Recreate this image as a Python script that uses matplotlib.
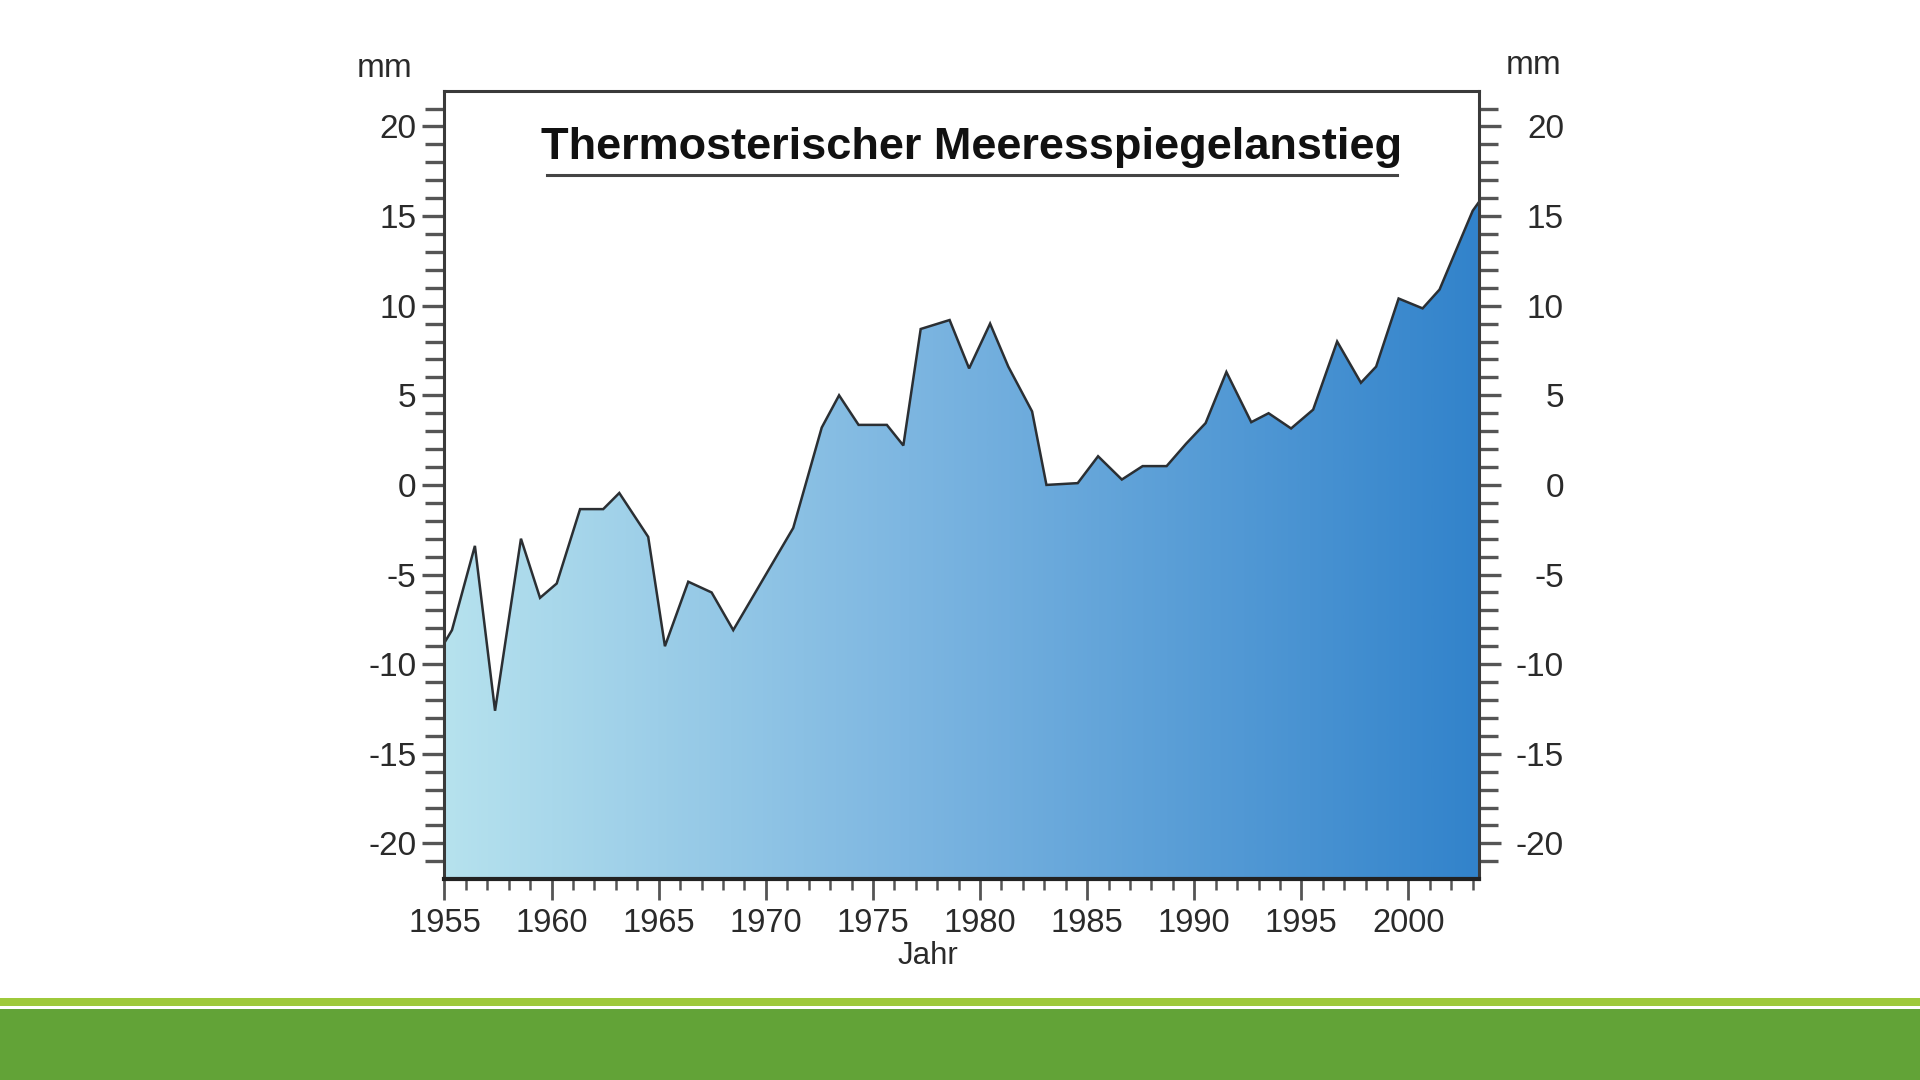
import numpy as np
import matplotlib
matplotlib.use("Agg")
import matplotlib.pyplot as plt
import matplotlib.transforms as mtransforms
from matplotlib.colors import LinearSegmentedColormap
from matplotlib.patches import Polygon, Rectangle
from matplotlib.lines import Line2D

plt.rcParams['font.family'] = ['Liberation Sans', 'DejaVu Sans']

# ---- data ----
years = [1955.0, 1955.35, 1956.42, 1957.36, 1958.57, 1959.46, 1960.24, 1961.33,
         1962.41, 1963.16, 1964.51, 1965.29, 1966.38, 1967.47, 1968.48, 1971.28,
         1972.61, 1973.42, 1974.33, 1975.65, 1976.42, 1977.23, 1978.58, 1979.49,
         1980.47, 1981.32, 1982.43, 1983.10, 1984.56, 1985.51, 1986.62, 1987.59,
         1988.71, 1989.62, 1990.53, 1991.50, 1992.66, 1993.47, 1994.52, 1995.55,
         1996.67, 1997.78, 1998.49, 1999.54, 2000.66, 2001.45, 2002.40, 2003.00,
         2003.30]
values = [-8.8, -8.1, -3.4, -12.6, -3.0, -6.3, -5.5, -1.35,
          -1.35, -0.45, -2.9, -9.0, -5.4, -6.0, -8.1, -2.4,
          3.2, 5.0, 3.35, 3.35, 2.2, 8.7, 9.2, 6.5,
          9.0, 6.6, 4.1, 0.0, 0.1, 1.6, 0.3, 1.05,
          1.05, 2.3, 3.45, 6.3, 3.5, 4.0, 3.15, 4.2,
          8.0, 5.7, 6.6, 10.4, 9.85, 10.9, 13.6, 15.3,
          15.8]
y_major = [-20, -15, -10, -5, 0, 5, 10, 15, 20]
x_major = [1955, 1960, 1965, 1970, 1975, 1980, 1985, 1990, 1995, 2000]
title = "Thermosterischer Meeresspiegelanstieg"
x_label = "Jahr"
unit = "mm"

XLIM = (1955.0, 2003.3)
YLIM = (-22.0, 22.0)

fig = plt.figure(figsize=(19.2, 10.8), dpi=100)
fig.patch.set_facecolor('white')

# green footer bands
fig.patches.append(Rectangle((0, 0.0685), 1, 0.0075, transform=fig.transFigure,
                             facecolor='#9ec93b', edgecolor='none', zorder=0))
fig.patches.append(Rectangle((0, 0.0), 1, 0.0657, transform=fig.transFigure,
                             facecolor='#62a337', edgecolor='none', zorder=0))

ax = fig.add_axes([0.2315, 0.1859, 0.5389, 0.7302])
ax.set_xlim(*XLIM)
ax.set_ylim(*YLIM)
ax.set_facecolor('white')

# gradient fill below the curve
cmap = LinearSegmentedColormap.from_list(
    'sea', [(0.0, '#b6e2ee'), (0.45, '#7db6e1'), (1.0, '#3283cb')])
grad = np.linspace(0, 1, 512).reshape(1, -1)
im = ax.imshow(grad, extent=[XLIM[0], XLIM[1], YLIM[0], YLIM[1]], aspect='auto',
               cmap=cmap, origin='lower', zorder=1, interpolation='bilinear')
verts = [(years[0], YLIM[0])] + list(zip(years, values)) + [(years[-1], YLIM[0])]
clip = Polygon(verts, closed=True, facecolor='none', edgecolor='none',
               transform=ax.transData)
ax.add_patch(clip)
im.set_clip_path(clip)

ax.plot(years, values, color='#2b2f33', lw=1.8, zorder=3, solid_joinstyle='miter')

# spines
for s in ax.spines.values():
    s.set_color('#3a3a3a')
    s.set_linewidth(2.2)
    s.set_zorder(4)
ax.spines['bottom'].set_color('#222222')
ax.spines['bottom'].set_linewidth(3)

# ticks
ax.set_xticks(x_major)
ax.set_xticks(np.arange(1955, 2004, 1), minor=True)
ax.set_yticks(y_major)
ax.set_yticks(np.arange(-21, 22, 1), minor=True)
ax.set_xticklabels([str(v) for v in x_major])
ax.set_yticklabels([str(v) for v in y_major])

ax.tick_params(axis='y', which='major', direction='out', length=16, width=2.4,
               color='#555555', labelsize=24, labelcolor='#2a2a2a', pad=4,
               left=True, right=True, labelleft=True, labelright=True)
ax.tick_params(axis='y', which='minor', direction='out', length=14, width=2.4,
               color='#555555', left=True, right=True)
ax.tick_params(axis='x', which='major', direction='out', length=15, width=2.0,
               color='#555555', labelsize=23.5, labelcolor='#2a2a2a', pad=6)
ax.tick_params(axis='x', which='minor', direction='out', length=8, width=1.8,
               color='#555555')

# right-hand labels right-aligned
fig.canvas.draw()
offset = mtransforms.ScaledTranslation(57 / 100.0, 0, fig.dpi_scale_trans)
for t in ax.yaxis.get_major_ticks():
    t.label2.set_horizontalalignment('right')
    t.label2.set_transform(t.label2.get_transform() + offset)

# title with underline
ax.text(0.509, 0.913, title, transform=ax.transAxes, ha='center', va='baseline',
        fontsize=32.5, fontweight='bold', color='#111111', zorder=5)
ax.add_line(Line2D([0.099, 0.9206], [0.893, 0.893], transform=ax.transAxes,
                   color='#444444', lw=2.2, zorder=5))

# axis labels
ax.set_xlabel(x_label, fontsize=22.5, color='#2a2a2a')
ax.xaxis.set_label_coords(0.467, -0.0974)
ax.xaxis.label.set_va('center')
fig.text(0.2003, 0.9365, unit, ha='center', va='center', fontsize=24, color='#2a2a2a')
fig.text(0.799, 0.939, unit, ha='center', va='center', fontsize=24, color='#2a2a2a')

fig.savefig('out.png', dpi=100, facecolor='white')
